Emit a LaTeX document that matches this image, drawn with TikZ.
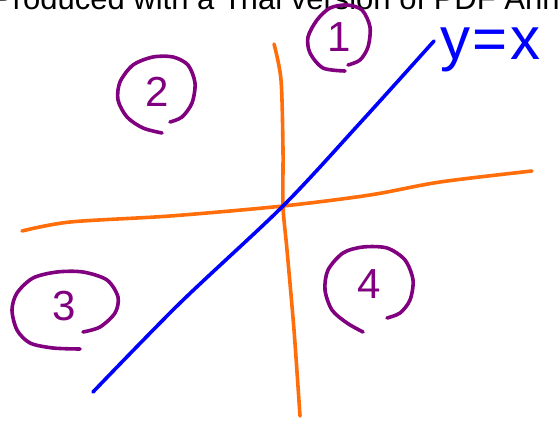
\documentclass[tikz,border=0pt]{standalone}
\usepackage{fontspec}
\setmainfont{Liberation Sans}
\definecolor{axisorange}{RGB}{255,110,10}
\definecolor{linblue}{RGB}{0,0,255}
\definecolor{quadpurple}{RGB}{128,0,128}
\begin{document}
\begin{tikzpicture}[x=1pt, y=-1pt,
    axisline/.style={axisorange, line width=3.6pt, line cap=round},
    diagline/.style={linblue, line width=3.6pt, line cap=round},
    loopline/.style={quadpurple, line width=3.6pt, line cap=round, line join=round},
    quadlabel/.style={text=quadpurple, font=\fontsize{42}{42}\selectfont, inner sep=0pt},
    eqlabel/.style={text=linblue, font=\fontsize{60}{60}\selectfont, inner sep=0pt},
]
    \useasboundingbox (0,0) rectangle (559,422);
    \clip (0,0) rectangle (559,422);
    \node[anchor=base west, font=\fontsize{31}{31}\selectfont, inner sep=0pt] (banner) at (-8,10)
        {Produced with a Trial version of PDF Annotator};

    % axes
    \draw[axisline] plot[smooth] coordinates {(22,231) (70,222) (170,216) (283,206) (370,195) (440,182) (532,171)};
    \draw[axisline] plot[smooth] coordinates {(274,44) (281,80) (283,150) (283,206) (287,250) (294,330) (300,416)};

    % the line y = x
    \draw[diagline] plot[smooth] coordinates {(93,392) (180,303) (283,206) (360,123) (434,41)};
    \node[eqlabel, anchor=base west] (eq) at (440,60) {y\kern2pt=\kern3pt x};

    % quadrant loops
    \draw[loopline] plot[smooth] coordinates {(345,71) (323,68) (310,53) (308,37) (317,20) (330,8) (347,5) (362,10) (370,27) (368,47) (360,60) (348,65)};
    \draw[loopline] plot[smooth] coordinates {(162,133) (143,128) (127,117) (118,100) (120,82) (133,65) (153,57) (173,57) (188,65) (195,83) (192,103) (182,117) (170,122)};
    \draw[loopline] plot[smooth] coordinates {(80,349) (53,348) (30,343) (17,330) (12,310) (17,293) (33,278) (57,272) (83,272) (107,280) (118,297) (115,313) (100,327) (83,332)};
    \draw[loopline] plot[smooth] coordinates {(363,332) (347,323) (332,310) (325,290) (328,270) (343,253) (363,247) (387,248) (405,260) (413,280) (410,300) (400,313) (387,318)};

    \foreach \lbl/\pos in {1/{(339,37)}, 2/{(157,92)}, 3/{(64,306)}, 4/{(369,284)}}{
        \node[quadlabel] (q\lbl) at \pos {\lbl};
    }
\end{tikzpicture}
\end{document}
